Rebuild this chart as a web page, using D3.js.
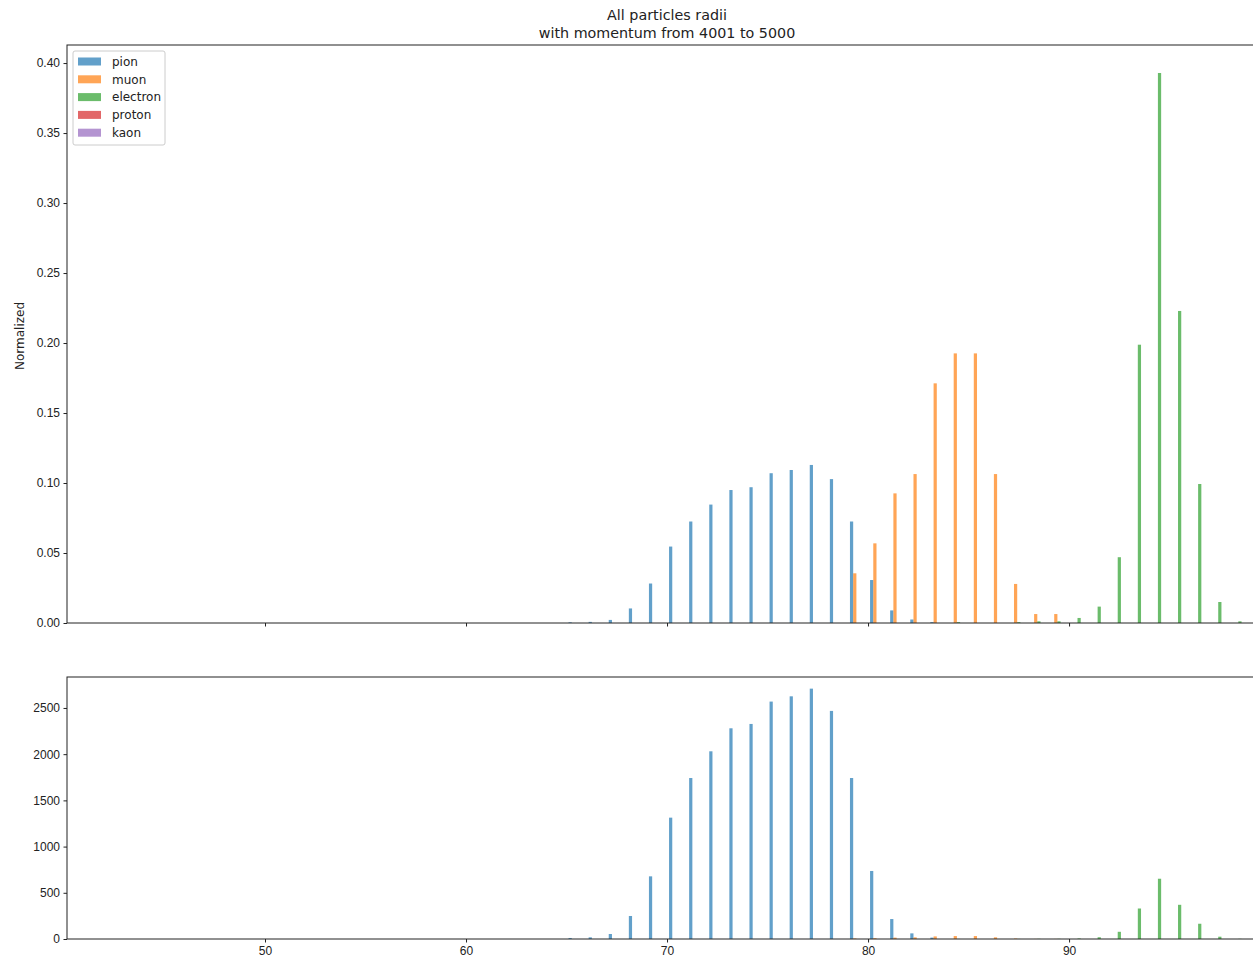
<!doctype html>
<html lang="en">
<head>
<meta charset="utf-8">
<title>All particles radii</title>
<script src="https://d3js.org/d3.v7.min.js"></script>
<style>
  body { margin: 0; background: #fff; }
  svg { display: block; font-family: "DejaVu Sans", sans-serif; }
  .tick text { font-size: 12px; fill: #222; }
  .tick line, .domain { stroke: #222; }
</style>
</head>
<body>
<svg id="chart" width="1253" height="958"></svg>
<script>
// radius bins (integer bins, width 1)
var bins = [65,66,67,68,69,70,71,72,73,74,75,76,77,78,79,80,81,82,83,84,85,86,87,88,89,90,91,92,93,94,95,96,97,98];
var particles = ["pion", "muon", "electron", "proton", "kaon"];
var colors = ["#1f77b4", "#ff7f0e", "#2ca02c", "#d62728", "#9467bd"];

// normalized histograms (top panel)
var pionNorm = [0.0005,0.0008,0.0022,0.0104,0.0282,0.0546,0.0725,0.0846,0.0950,0.0970,0.1070,0.1093,0.1129,0.1028,0.0725,0.0307,0.0090,0.0025,0.0006,0,0,0,0,0,0,0,0,0,0,0,0,0,0,0];
var muonNorm = [0,0,0,0,0,0,0,0,0,0,0,0,0,0,0.0355,0.0569,0.0926,0.1064,0.1712,0.1926,0.1926,0.1064,0.0279,0.0064,0.0064,0,0,0,0,0,0,0,0,0];
var electronNorm = [0,0,0,0,0,0,0,0,0,0,0,0,0,0,0,0,0,0,0,0.0006,0,0,0.0006,0.0012,0.0012,0.0036,0.0117,0.0470,0.1988,0.3929,0.2229,0.0993,0.0150,0.0012];
var protonNorm = [0,0,0,0,0,0,0,0,0,0,0,0,0,0,0,0,0,0,0,0,0,0,0,0,0,0,0,0,0,0,0,0,0,0];
var kaonNorm = [0,0,0,0,0,0,0,0,0,0,0,0,0,0,0,0,0,0,0,0,0,0,0,0,0,0,0,0,0,0,0,0,0,0];

// raw counts (bottom panel)
var pionCount = [11,18,54,249,678,1313,1742,2031,2280,2327,2569,2626,2709,2468,1742,736,216,61,15,0,0,0,0,0,0,0,0,0,0,0,0,0,0,0];
var muonCount = [0,0,0,0,0,0,0,0,0,0,0,0,0,0,6,9,15,18,28,32,32,18,5,1,1,0,0,0,0,0,0,0,0,0];
var electronCount = [0,0,0,0,0,0,0,0,0,0,0,0,0,0,0,0,0,0,0,1,0,0,1,2,2,6,19,78,330,652,370,165,25,2];
var protonCount = [0,0,0,0,0,0,0,0,0,0,0,0,0,0,0,0,0,0,0,0,0,0,0,0,0,0,0,0,0,0,0,0,0,0];
var kaonCount = [0,0,0,0,0,0,0,0,0,0,0,0,0,0,0,0,0,0,0,0,0,0,0,0,0,0,0,0,0,0,0,0,0,0];

var xTicks = [50, 60, 70, 80, 90];
var yTicksTop = [0, 0.05, 0.10, 0.15, 0.20, 0.25, 0.30, 0.35, 0.40];
var yTicksBottom = [0, 500, 1000, 1500, 2000, 2500];

var svg = d3.select("#chart");
var left = 67, right = 1253;
var x = d3.scaleLinear().domain([40.15, 99.15]).range([left, right]);
var barW = 0.16; // matplotlib: 0.8 of the bin split over 5 datasets

function panel(series, yDomain, yTicks, fmt, top, bottom, showXLabels) {
  var y = d3.scaleLinear().domain(yDomain).range([bottom, top]);
  var g = svg.append("g");
  series.forEach(function(vals, i) {
    g.append("g").selectAll("rect").data(vals.map(function(v, j) { return {b: bins[j], v: v}; }).filter(function(d) { return d.v > 0; }))
      .enter().append("rect")
      .attr("x", function(d) { return x(d.b + 0.1 + i * barW); })
      .attr("width", function(d) { return x(d.b + 0.1 + (i + 1) * barW) - x(d.b + 0.1 + i * barW); })
      .attr("y", function(d) { return y(d.v); })
      .attr("height", function(d) { return y(0) - y(d.v); })
      .attr("fill", colors[i]).attr("fill-opacity", 0.7);
  });
  svg.append("g").attr("transform", "translate(" + left + ",0)")
    .call(d3.axisLeft(y).tickValues(yTicks).tickFormat(fmt).tickSize(3.5).tickPadding(3.5))
    .call(function(a) { a.select(".domain").remove(); });
  var xa = svg.append("g").attr("transform", "translate(0," + bottom + ")")
    .call(d3.axisBottom(x).tickValues(xTicks).tickFormat(showXLabels ? d3.format("d") : "").tickSize(3.5).tickPadding(3.5));
  xa.select(".domain").remove();
  // frame
  svg.append("rect").attr("x", left).attr("y", top).attr("width", right + 20 - left).attr("height", bottom - top)
    .attr("fill", "none").attr("stroke", "#222").attr("stroke-width", 1);
  return y;
}

panel([pionNorm, muonNorm, electronNorm, protonNorm, kaonNorm], [0, 0.4129], yTicksTop, d3.format(".2f"), 45, 623, false);
panel([pionCount, muonCount, electronCount, protonCount, kaonCount], [0, 2835], yTicksBottom, d3.format("d"), 677, 939, true);

// title
svg.append("text").attr("x", 667).attr("y", 20).attr("text-anchor", "middle").attr("font-size", 14.3).attr("fill", "#222").text("All particles radii");
svg.append("text").attr("x", 667).attr("y", 38).attr("text-anchor", "middle").attr("font-size", 14.3).attr("fill", "#222").text("with momentum from 4001 to 5000");

// y label
svg.append("text").attr("transform", "translate(24,336) rotate(-90)").attr("text-anchor", "middle")
  .attr("font-size", 12).attr("fill", "#222").text("Normalized");

// legend
var lg = svg.append("g").attr("transform", "translate(73,51)");
lg.append("rect").attr("width", 92).attr("height", 94).attr("rx", 2).attr("fill", "#fff").attr("fill-opacity", 0.8)
  .attr("stroke", "#ccc").attr("stroke-width", 1);
particles.forEach(function(p, i) {
  lg.append("rect").attr("x", 5).attr("y", 6.5 + i * 17.8).attr("width", 23).attr("height", 8)
    .attr("fill", colors[i]).attr("fill-opacity", 0.7);
  lg.append("text").attr("x", 39).attr("y", 14.8 + i * 17.8).attr("font-size", 12).attr("fill", "#222").text(p);
});
</script>
</body>
</html>
